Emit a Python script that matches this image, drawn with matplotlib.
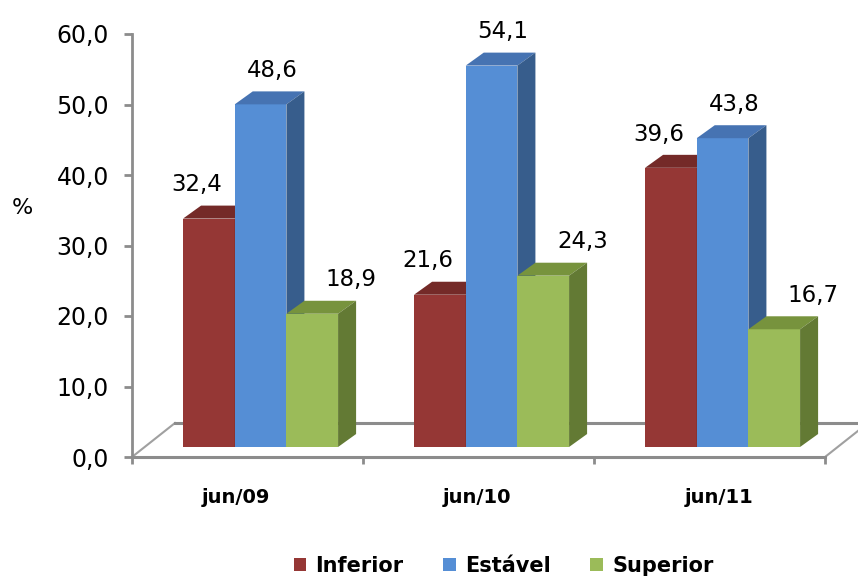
import matplotlib
matplotlib.use("Agg")
import matplotlib.pyplot as plt
from matplotlib.patches import Polygon, Patch

# data
periods = ["jun/09", "jun/10", "jun/11"]
series = ["Inferior", "Estável", "Superior"]
inferior = [32.4, 21.6, 39.6]
estavel = [48.6, 54.1, 43.8]
superior = [18.9, 24.3, 16.7]
yticks = [0, 10, 20, 30, 40, 50, 60]

values = [inferior, estavel, superior]

# colours: front, top, side
front_colors = ["#953735", "#558ed5", "#9bbb59"]
top_colors = ["#742a28", "#4673b2", "#77933d"]
side_colors = ["#6e2826", "#375d8c", "#637a34"]
# label shifts (x units) per series, Excel puts them a bit off-centre
label_dx = [-0.09, 0.01, 0.13]

FONT = "DejaVu Sans"
grey = "#8c8c8c"

fig = plt.figure(figsize=(8.58, 5.78), dpi=100)
ax = fig.add_axes([132 / 858, 121 / 578, 1 - 132 / 858, 423 / 578])
ax.set_xlim(0, 726 / 231)
ax.set_ylim(0, 60)

base = 1.42       # bars sit a bit above the front floor edge
bar_w = 0.2237
first = 0.221
ddx, ddy = 0.078, 1.84          # bar depth
fdx, fdy = 0.186, 4.82          # floor depth

# floor
ax.plot([0, fdx], [0, fdy], color="#a0a0a0", lw=1.5, zorder=1, clip_on=False)
ax.plot([fdx, 4], [fdy, fdy], color=grey, lw=2.2, zorder=1)
ax.plot([3, 3 + fdx], [0, fdy], color="#a0a0a0", lw=1.5, zorder=1)
ax.plot([0, 3], [0, 0], color=grey, lw=2.2, zorder=2, clip_on=False)

# bars
z = 3
for g in range(len(periods)):
    for s in range(len(series)):
        v = values[s][g]
        x0 = g + first + s * bar_w
        x1 = x0 + bar_w
        top = base + v
        ax.bar(x0, v, bottom=base, width=bar_w, align="edge",
               color=front_colors[s], zorder=z, linewidth=0)
        ax.add_patch(Polygon([(x0, top), (x1, top), (x1 + ddx, top + ddy),
                              (x0 + ddx, top + ddy)], closed=True,
                             facecolor=top_colors[s], edgecolor="none", zorder=z))
        ax.add_patch(Polygon([(x1, base), (x1 + ddx, base + ddy),
                              (x1 + ddx, top + ddy), (x1, top)], closed=True,
                             facecolor=side_colors[s], edgecolor="none", zorder=z))
        ax.annotate(f"{v:.1f}".replace(".", ","),
                    xy=((x0 + x1) / 2 + ddx / 2 + label_dx[s], top + ddy),
                    xytext=(0, 15), textcoords="offset points",
                    ha="center", va="center", fontsize=16.5, family=FONT,
                    zorder=20, annotation_clip=False)
        z += 1

# axes styling
for sp in ["top", "right", "bottom"]:
    ax.spines[sp].set_visible(False)
ax.spines["left"].set_color(grey)
ax.spines["left"].set_linewidth(2)
ax.set_yticks(yticks)
ax.set_yticklabels([f"{t:.1f}".replace(".", ",") for t in yticks],
                   fontsize=17, family=FONT)
ax.tick_params(axis="y", color=grey, length=5.5, width=2, pad=11)
ax.set_xticks([0, 1, 2, 3])
ax.set_xticklabels([])
ax.tick_params(axis="x", color=grey, length=5, width=2)

for i, p in enumerate(periods):
    ax.text(i + 0.45 + 0.045 * i, -5.7, p, ha="center", va="center",
            fontsize=14, fontweight="bold", family=FONT, clip_on=False)

fig.text(22 / 858, 1 - 208 / 578, "%", ha="center", va="center",
         fontsize=16, family=FONT)

handles = [Patch(facecolor=c, edgecolor="none") for c in front_colors]
fig.legend(handles, series, loc="center", bbox_to_anchor=(0.587, 1 - 566 / 578),
           ncol=3, frameon=False, handlelength=0.6, handleheight=0.6,
           handletextpad=0.45, columnspacing=1.9,
           prop={"family": FONT, "weight": "bold", "size": 15})

fig.savefig("out.png", dpi=100)
